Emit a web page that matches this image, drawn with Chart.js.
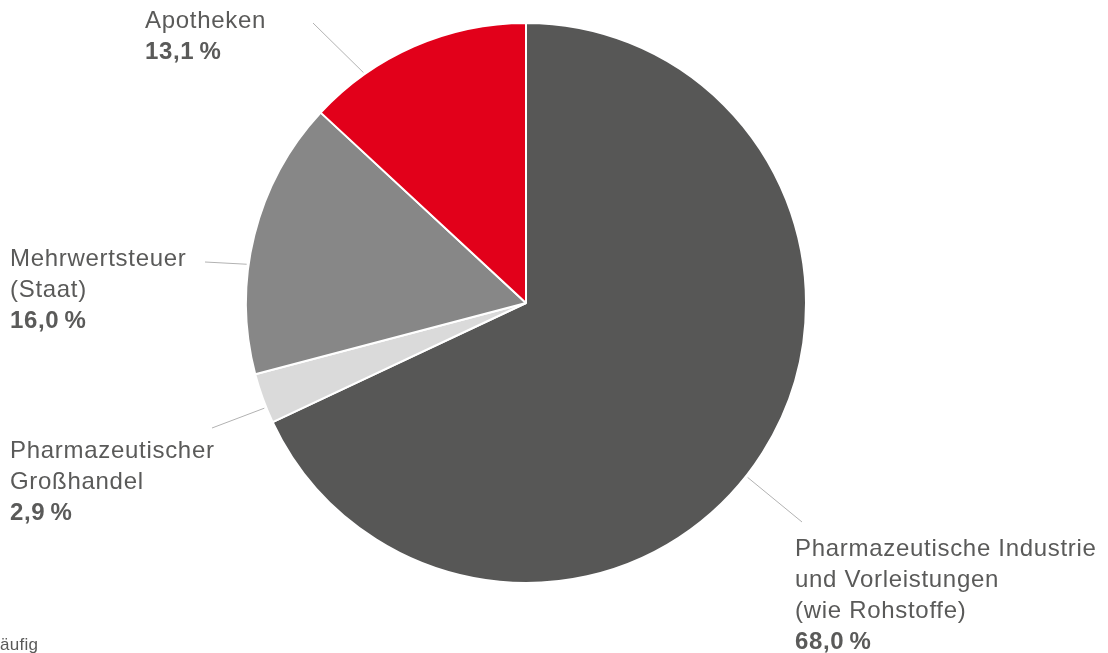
<!DOCTYPE html>
<html>
<head>
<meta charset="utf-8">
<script src="https://cdn.jsdelivr.net/npm/chart.js@4"></script>
<style>
  html, body { margin: 0; padding: 0; background: #fff; }
  #wrap { position: relative; width: 1108px; height: 653px; }
</style>
</head>
<body>
<div id="wrap"><canvas id="myChart" width="1108" height="653"></canvas></div>
<script>
// Data
const categories = [
    ["Pharmazeutische Industrie", "und Vorleistungen", "(wie Rohstoffe)"],
    ["Pharmazeutischer", "Großhandel"],
    ["Mehrwertsteuer", "(Staat)"],
    ["Apotheken"]
];
const shares = [68.0, 2.9, 16.0, 13.1];
const shareLabels = ["68,0\u2009%", "2,9\u2009%", "16,0\u2009%", "13,1\u2009%"];
const colors = ["#575756", "#dadada", "#878787", "#e2001a"];

// label placement: angle (deg, clockwise from top) where the leader touches the pie,
// outer end of the leader, text anchor + first baseline
const labelLayout = [
    { angle: 128.2, lineEnd: [802, 522], textX: 795, textY: 556 },
    { angle: 248.1, lineEnd: [212, 428], textX: 10, textY: 458 },
    { angle: 277.9, lineEnd: [205, 262], textX: 10, textY: 266 },
    { angle: 324.8, lineEnd: [313, 23], textX: 145, textY: 28 }
];

const textColor = "#5a5a59";
const lineHeight = 31;
const fontFamily = "'Liberation Sans', Arial, sans-serif";

const labelPlugin = {
    id: "pieLabels",
    afterDatasetsDraw(chart) {
        const ctx = chart.ctx;
        const arcs = chart.getDatasetMeta(0).data;
        ctx.save();
        arcs.forEach((arc, i) => {
            const lay = labelLayout[i];
            const a = (lay.angle - 90) * Math.PI / 180;
            const r = arc.outerRadius + 2;
            ctx.strokeStyle = "#b2b2b2";
            ctx.lineWidth = 1;
            ctx.beginPath();
            ctx.moveTo(arc.x + Math.cos(a) * r, arc.y + Math.sin(a) * r);
            ctx.lineTo(lay.lineEnd[0], lay.lineEnd[1]);
            ctx.stroke();

            ctx.fillStyle = textColor;
            ctx.textAlign = "left";
            ctx.textBaseline = "alphabetic";
            ctx.font = "24px " + fontFamily;
            ctx.letterSpacing = "0.7px";
            const lines = categories[i];
            lines.forEach((t, k) => {
                ctx.fillText(t, lay.textX, lay.textY + k * lineHeight);
            });
            ctx.font = "bold 24px " + fontFamily;
            ctx.letterSpacing = "0.6px";
            ctx.fillText(shareLabels[i], lay.textX, lay.textY + lines.length * lineHeight);
        });
        // cut-off footnote at the bottom left
        ctx.font = "17px " + fontFamily;
        ctx.letterSpacing = "0.3px";
        ctx.fillStyle = textColor;
        ctx.fillText("äufig", 0, 650);
        ctx.restore();
    }
};

const ctx1 = document.getElementById("myChart").getContext("2d");

new Chart(ctx1, {
    type: "pie",
    data: {
        labels: categories.map(c => c.join(" ")),
        datasets: [{
            data: shares,
            backgroundColor: colors,
            borderColor: "#ffffff",
            borderWidth: 2,
            hoverOffset: 0
        }]
    },
    options: {
        responsive: false,
        animation: false,
        layout: {
            padding: { top: 22, bottom: 69, left: 200, right: 256 }
        },
        plugins: {
            legend: { display: false },
            tooltip: { enabled: false }
        }
    },
    plugins: [labelPlugin]
});
</script>
</body>
</html>
